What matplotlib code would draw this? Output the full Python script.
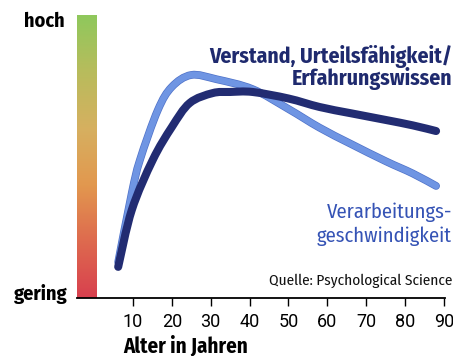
import numpy as np
import matplotlib.pyplot as plt
import matplotlib.patheffects as pe
from matplotlib.colors import LinearSegmentedColormap
from matplotlib.path import Path
from matplotlib.patches import PathPatch

alter_verstand = [6.2, 9.7, 15.1, 20.0, 24.6, 30.5, 35.0, 40.8, 50.0, 58.0, 66.0, 75.1, 82.0, 88.0]
verstand = [11.0, 31.1, 48.8, 60.4, 68.9, 72.4, 72.8, 72.8, 70.5, 67.5, 65.3, 62.9, 61.0, 59.0]

alter_tempo = [6.2, 9.7, 11.8, 16.4, 20.0, 25.0, 31.5, 40.8, 50.0, 58.0, 66.0, 75.1, 82.0, 88.0]
tempo = [12.7, 37.1, 48.8, 66.4, 74.6, 78.8, 77.3, 73.8, 66.8, 60.2, 54.5, 48.3, 44.0, 39.6]

ticks = [10, 20, 30, 40, 50, 60, 70, 80, 90]

fira = ["Fira Sans Condensed", "DejaVu Sans"]
tickfont = ["Roboto", "DejaVu Sans"]


def smooth_path(xs, ys):
    # Catmull-Rom Kurve als Bezier-Pfad durch die Punkte
    pts = np.column_stack([xs, ys])
    verts = [pts[0]]
    codes = [Path.MOVETO]
    for i in range(len(pts) - 1):
        p0 = pts[i - 1] if i > 0 else pts[i]
        p1, p2 = pts[i], pts[i + 1]
        p3 = pts[i + 2] if i + 2 < len(pts) else pts[i + 1]
        verts += [p1 + (p2 - p0) / 6, p2 - (p3 - p1) / 6, p2]
        codes += [Path.CURVE4] * 3
    return Path(verts, codes)


fig = plt.figure(figsize=(4.53, 3.56), dpi=100)
ax = fig.add_axes([77 / 453, 58 / 356, 368 / 453, 283 / 356])
ax.set_xlim(-4.4, 90.3)
ax.set_ylim(0, 100)

# Farbbalken gering -> hoch
cmap = LinearSegmentedColormap.from_list(
    "skala", ["#d8404f", "#de6a4e", "#e2984f", "#d6b060", "#b8bc5c", "#8fc85c"]
)
grad = np.linspace(0, 1, 256).reshape(-1, 1)
ax.imshow(grad, extent=(-4.4, 0.6, 0, 100), origin="lower", aspect="auto", cmap=cmap, zorder=1)

ax.add_patch(PathPatch(smooth_path(alter_tempo, tempo), fill=False, edgecolor="#6f95e3",
                       lw=4.6, capstyle="round", joinstyle="round", zorder=3,
                       path_effects=[pe.Stroke(linewidth=5.6, foreground="#4f72c8"), pe.Normal()]))
ax.add_patch(PathPatch(smooth_path(alter_verstand, verstand), fill=False, edgecolor="#222c72",
                       lw=5.8, capstyle="round", joinstyle="round", zorder=4))

for s in ["top", "right", "left"]:
    ax.spines[s].set_visible(False)
ax.spines["bottom"].set_linewidth(1.3)
ax.set_yticks([])
ax.set_xticks(ticks)
ax.tick_params(axis="x", direction="out", length=5.5, width=1, pad=5, labelsize=13)
for lab in ax.get_xticklabels():
    lab.set_family(tickfont)

fig.text(123 / 453, 1 - 346 / 356, "Alter in Jahren", family=fira, weight="bold",
         fontsize=15, va="center", ha="left")
fig.text(65 / 453, 1 - 21 / 356, "hoch", family=fira, weight="bold",
         fontsize=14.5, va="center", ha="right")
fig.text(67 / 453, 1 - 294 / 356, "gering", family=fira, weight="bold",
         fontsize=14.5, va="center", ha="right")

fig.text(452 / 453, 1 - 57 / 356, "Verstand, Urteilsfähigkeit/", family=fira, weight="bold",
         fontsize=15.6, color="#1f2a6e", va="center", ha="right")
fig.text(452 / 453, 1 - 79 / 356, "Erfahrungswissen", family=fira, weight="bold",
         fontsize=15.6, color="#1f2a6e", va="center", ha="right")

fig.text(452 / 453, 1 - 212 / 356, "Verarbeitungs-", family=fira,
         fontsize=14.8, color="#3553b5", va="center", ha="right")
fig.text(452 / 453, 1 - 236 / 356, "geschwindigkeit", family=fira,
         fontsize=14.8, color="#3553b5", va="center", ha="right")

fig.text(452 / 453, 1 - 281 / 356, "Quelle: Psychological Science", family=fira,
         fontsize=11, color="#111111", va="center", ha="right")

fig.savefig("out.png", dpi=100)
